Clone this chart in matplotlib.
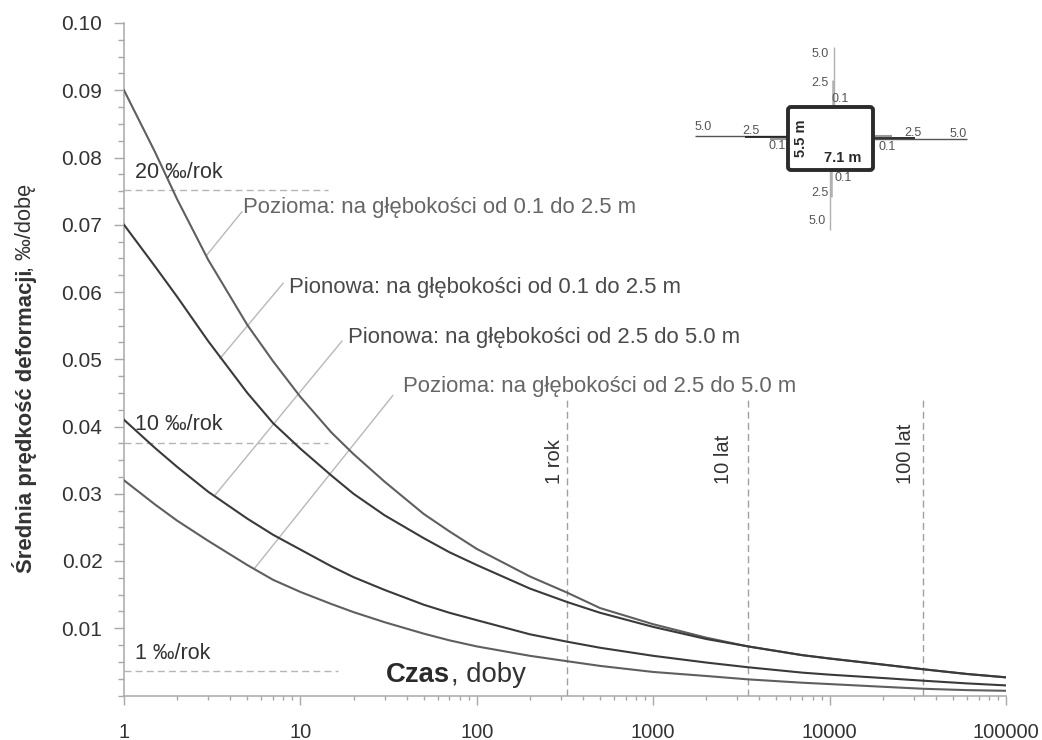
import matplotlib
matplotlib.use("Agg")
import matplotlib.pyplot as plt
from matplotlib.patches import FancyBboxPatch
from matplotlib.ticker import FixedLocator, FuncFormatter, LogLocator, NullFormatter

plt.rcParams['font.family'] = ['Liberation Sans', 'DejaVu Sans']

# curves (days, promille per day)
days = [1, 1.5, 2, 3, 5, 7, 10, 15, 20, 30, 50, 70, 100, 200, 325, 500, 1000, 2000, 3445, 7000, 10000, 20000, 34000, 60000, 100000]
poz_01 = [.0900, .0808, .0738, .0648, .0551, .0497, .0444, .0391, .0359, .0318, .0270, .0244, .0218, .0177, .0153, .0130, .0106, .0086, .0073, .0060, .0055, .0046, .0039, .0032, .0027]
pio_01 = [.0700, .0638, .0593, .0527, .0450, .0405, .0367, .0327, .0300, .0268, .0234, .0213, .0194, .0159, .0139, .0123, .0102, .0084, .0073, .0060, .0055, .0046, .0039, .0032, .0027]
pio_25 = [.0410, .0368, .0340, .0303, .0263, .0239, .0217, .0192, .0176, .0157, .0135, .0123, .0112, .0091, .0080, .0071, .0059, .0049, .0042, .0034, .0031, .0026, .0022, .0018, .0015]
poz_25 = [.0320, .0284, .0260, .0230, .0194, .0172, .0154, .0136, .0124, .0109, .0092, .0082, .0073, .0059, .0051, .0044, .0035, .0029, .0024, .0019, .0017, .0013, .0010, .0008, .0007]

rate_labels = ["20 ‰/rok", "10 ‰/rok", "1 ‰/rok"]
rate_y = [.0751, .0376, .0036]
rate_end_x = [14.3, 14.3, 16.3]

time_labels = ["1 rok", "10 lat", "100 lat"]
time_x = [325, 3445, 34000]
time_label_x = [275, 2500, 26900]
time_top = .0446

curve_labels = ["Pozioma: na głębokości od 0.1 do 2.5 m", "Pionowa: na głębokości od 0.1 do 2.5 m",
                "Pionowa: na głębokości od 2.5 do 5.0 m", "Pozioma: na głębokości od 2.5 do 5.0 m"]
leader_start = [(2.95, .0655), (3.5, .0501), (3.28, .0298), (5.53, .019)]
leader_end = [(4.65, .0719), (7.98, .0613), (17.2, .0527), (33.4, .0446)]
label_pos = [(4.73, .0725), (8.6, .0607), (18.6, .0533), (38.1, .046)]
label_col = ["#666666", "#4a4a4a", "#4a4a4a", "#666666"]

y_major = [.01, .02, .03, .04, .05, .06, .07, .08, .09, .10]
y_minor = [i * .0025 for i in range(41)]

GRAY = "#a8a8a8"
TXT = "#333333"

fig = plt.figure(figsize=(10.42, 7.4), dpi=100)
ax = fig.add_axes([124 / 1042, 1 - 695.5 / 740, (1006 - 124) / 1042, (695.5 - 23) / 740])
ax.set_xscale("log")
ax.set_xlim(1, 100000)
ax.set_ylim(0, .1)
ax.patch.set_alpha(0)

for s in ["top", "right"]:
    ax.spines[s].set_visible(False)
for s in ["left", "bottom"]:
    ax.spines[s].set_color(GRAY)
    ax.spines[s].set_linewidth(1.1)

ax.yaxis.set_major_locator(FixedLocator(y_major))
ax.yaxis.set_minor_locator(FixedLocator(y_minor))
ax.yaxis.set_major_formatter(FuncFormatter(lambda v, p: "%.2f" % v))
ax.xaxis.set_major_locator(LogLocator(base=10, numticks=8))
ax.xaxis.set_minor_locator(LogLocator(base=10, subs=range(2, 10), numticks=8))
ax.xaxis.set_minor_formatter(NullFormatter())
ax.xaxis.set_major_formatter(FuncFormatter(lambda v, p: "%d" % v))
ax.tick_params(axis="y", which="major", length=7.5, width=1, color=GRAY, labelsize=15, labelcolor=TXT, pad=8)
ax.tick_params(axis="y", which="minor", length=4, width=1, color=GRAY)
ax.tick_params(axis="x", which="major", length=6.5, width=1, color=GRAY, labelsize=14.5, labelcolor=TXT, pad=13)
ax.tick_params(axis="x", which="minor", length=3, width=1, color=GRAY)

ax.plot(days, poz_01, color="#5f5f5f", lw=1.5, zorder=3)
ax.plot(days, pio_01, color="#3a3a3a", lw=1.5, zorder=3)
ax.plot(days, pio_25, color="#3a3a3a", lw=1.5, zorder=3)
ax.plot(days, poz_25, color="#5f5f5f", lw=1.5, zorder=3)

# dashed rate lines and their labels
for lab, y, xe in zip(rate_labels, rate_y, rate_end_x):
    ax.plot([1, xe], [y, y], color="#b5b5b5", lw=1, ls=(0, (5, 3)), zorder=1)
    ax.text(1.15, y + .0027, lab, fontsize=15.5, color=TXT, va="center", ha="left")

# time markers
for lab, x, lx in zip(time_labels, time_x, time_label_x):
    ax.plot([x, x], [0, time_top], color="#a0a0a0", lw=1, ls=(0, (5, 3)), zorder=1)
    ax.text(lx, .0314, lab, fontsize=14.5, color=TXT, rotation=90, va="bottom", ha="center")

# leaders to the curve labels
for st, en, lab, pos, col in zip(leader_start, leader_end, curve_labels, label_pos, label_col):
    ax.plot([st[0], en[0]], [st[1], en[1]], color="#b8b8b8", lw=1, zorder=2)
    ax.text(pos[0], pos[1], lab, fontsize=15.9, color=col, va="center", ha="left")

# full figure overlay in pixels, for axis titles and the small schematic
ov = fig.add_axes([0, 0, 1, 1])
ov.set_xlim(0, 1042)
ov.set_ylim(740, 0)
ov.axis("off")
ov.patch.set_alpha(0)

ov.text(25, 573, "Średnia prędkość deformacji", rotation=90, fontsize=15.9, fontweight="bold",
        color=TXT, ha="center", va="bottom")
ov.text(25, 272, ", ‰/dobę", rotation=90, fontsize=15.7, color=TXT, ha="center", va="bottom")
ov.text(386, 675, "Czas", fontsize=19.8, fontweight="bold", color="#2a2a2a", ha="left", va="center")
ov.text(451, 675, ", doby", fontsize=19.8, color=TXT, ha="left", va="center")

# schematic of the cross-section
gauge_lines = [((834, 47), (834, 107), "#b0b0b0", 1.0), ((833, 80), (833, 107), "#b0b0b0", 1.8),
               ((830, 171), (830, 230), "#b0b0b0", 1.0), ((831, 171), (831, 197), "#b0b0b0", 1.8),
               ((695, 136), (787, 136), "#555555", 1.0), ((745, 137), (787, 137), "#222222", 1.3),
               ((770, 139), (787, 139), "#999999", 1.5),
               ((874, 139), (967, 139), "#555555", 1.0), ((874, 138), (915, 138), "#222222", 1.3),
               ((874, 136), (892, 136), "#999999", 1.5)]
for p0, p1, col, lw in gauge_lines:
    ov.plot([p0[0], p1[0]], [p0[1], p1[1]], color=col, lw=lw, solid_capstyle="butt", zorder=1)
ov.add_patch(FancyBboxPatch((788, 107), 85, 63, boxstyle="round,pad=0,rounding_size=3", fc="none",
                            ec="#2b2b2b", lw=2.8, zorder=2))

depth_txt = [("5.0", 820, 54), ("2.5", 820, 83), ("0.1", 840, 99), ("0.1", 843, 178), ("2.5", 820, 193),
             ("5.0", 817, 221), ("5.0", 703, 127), ("2.5", 751, 131), ("0.1", 777, 146), ("0.1", 887, 147),
             ("2.5", 913, 133), ("5.0", 958, 134)]
for t, x, y in depth_txt:
    ov.text(x, y, t, fontsize=9, color="#555555", ha="center", va="center", zorder=3)
ov.text(801, 138, "5.5 m", fontsize=10.5, fontweight="bold", rotation=90, color="#2a2a2a", ha="center", va="center", zorder=3)
ov.text(843, 158, "7.1 m", fontsize=10.5, fontweight="bold", color="#2a2a2a", ha="center", va="center", zorder=3)

fig.savefig("out.png", dpi=100, facecolor="white")
